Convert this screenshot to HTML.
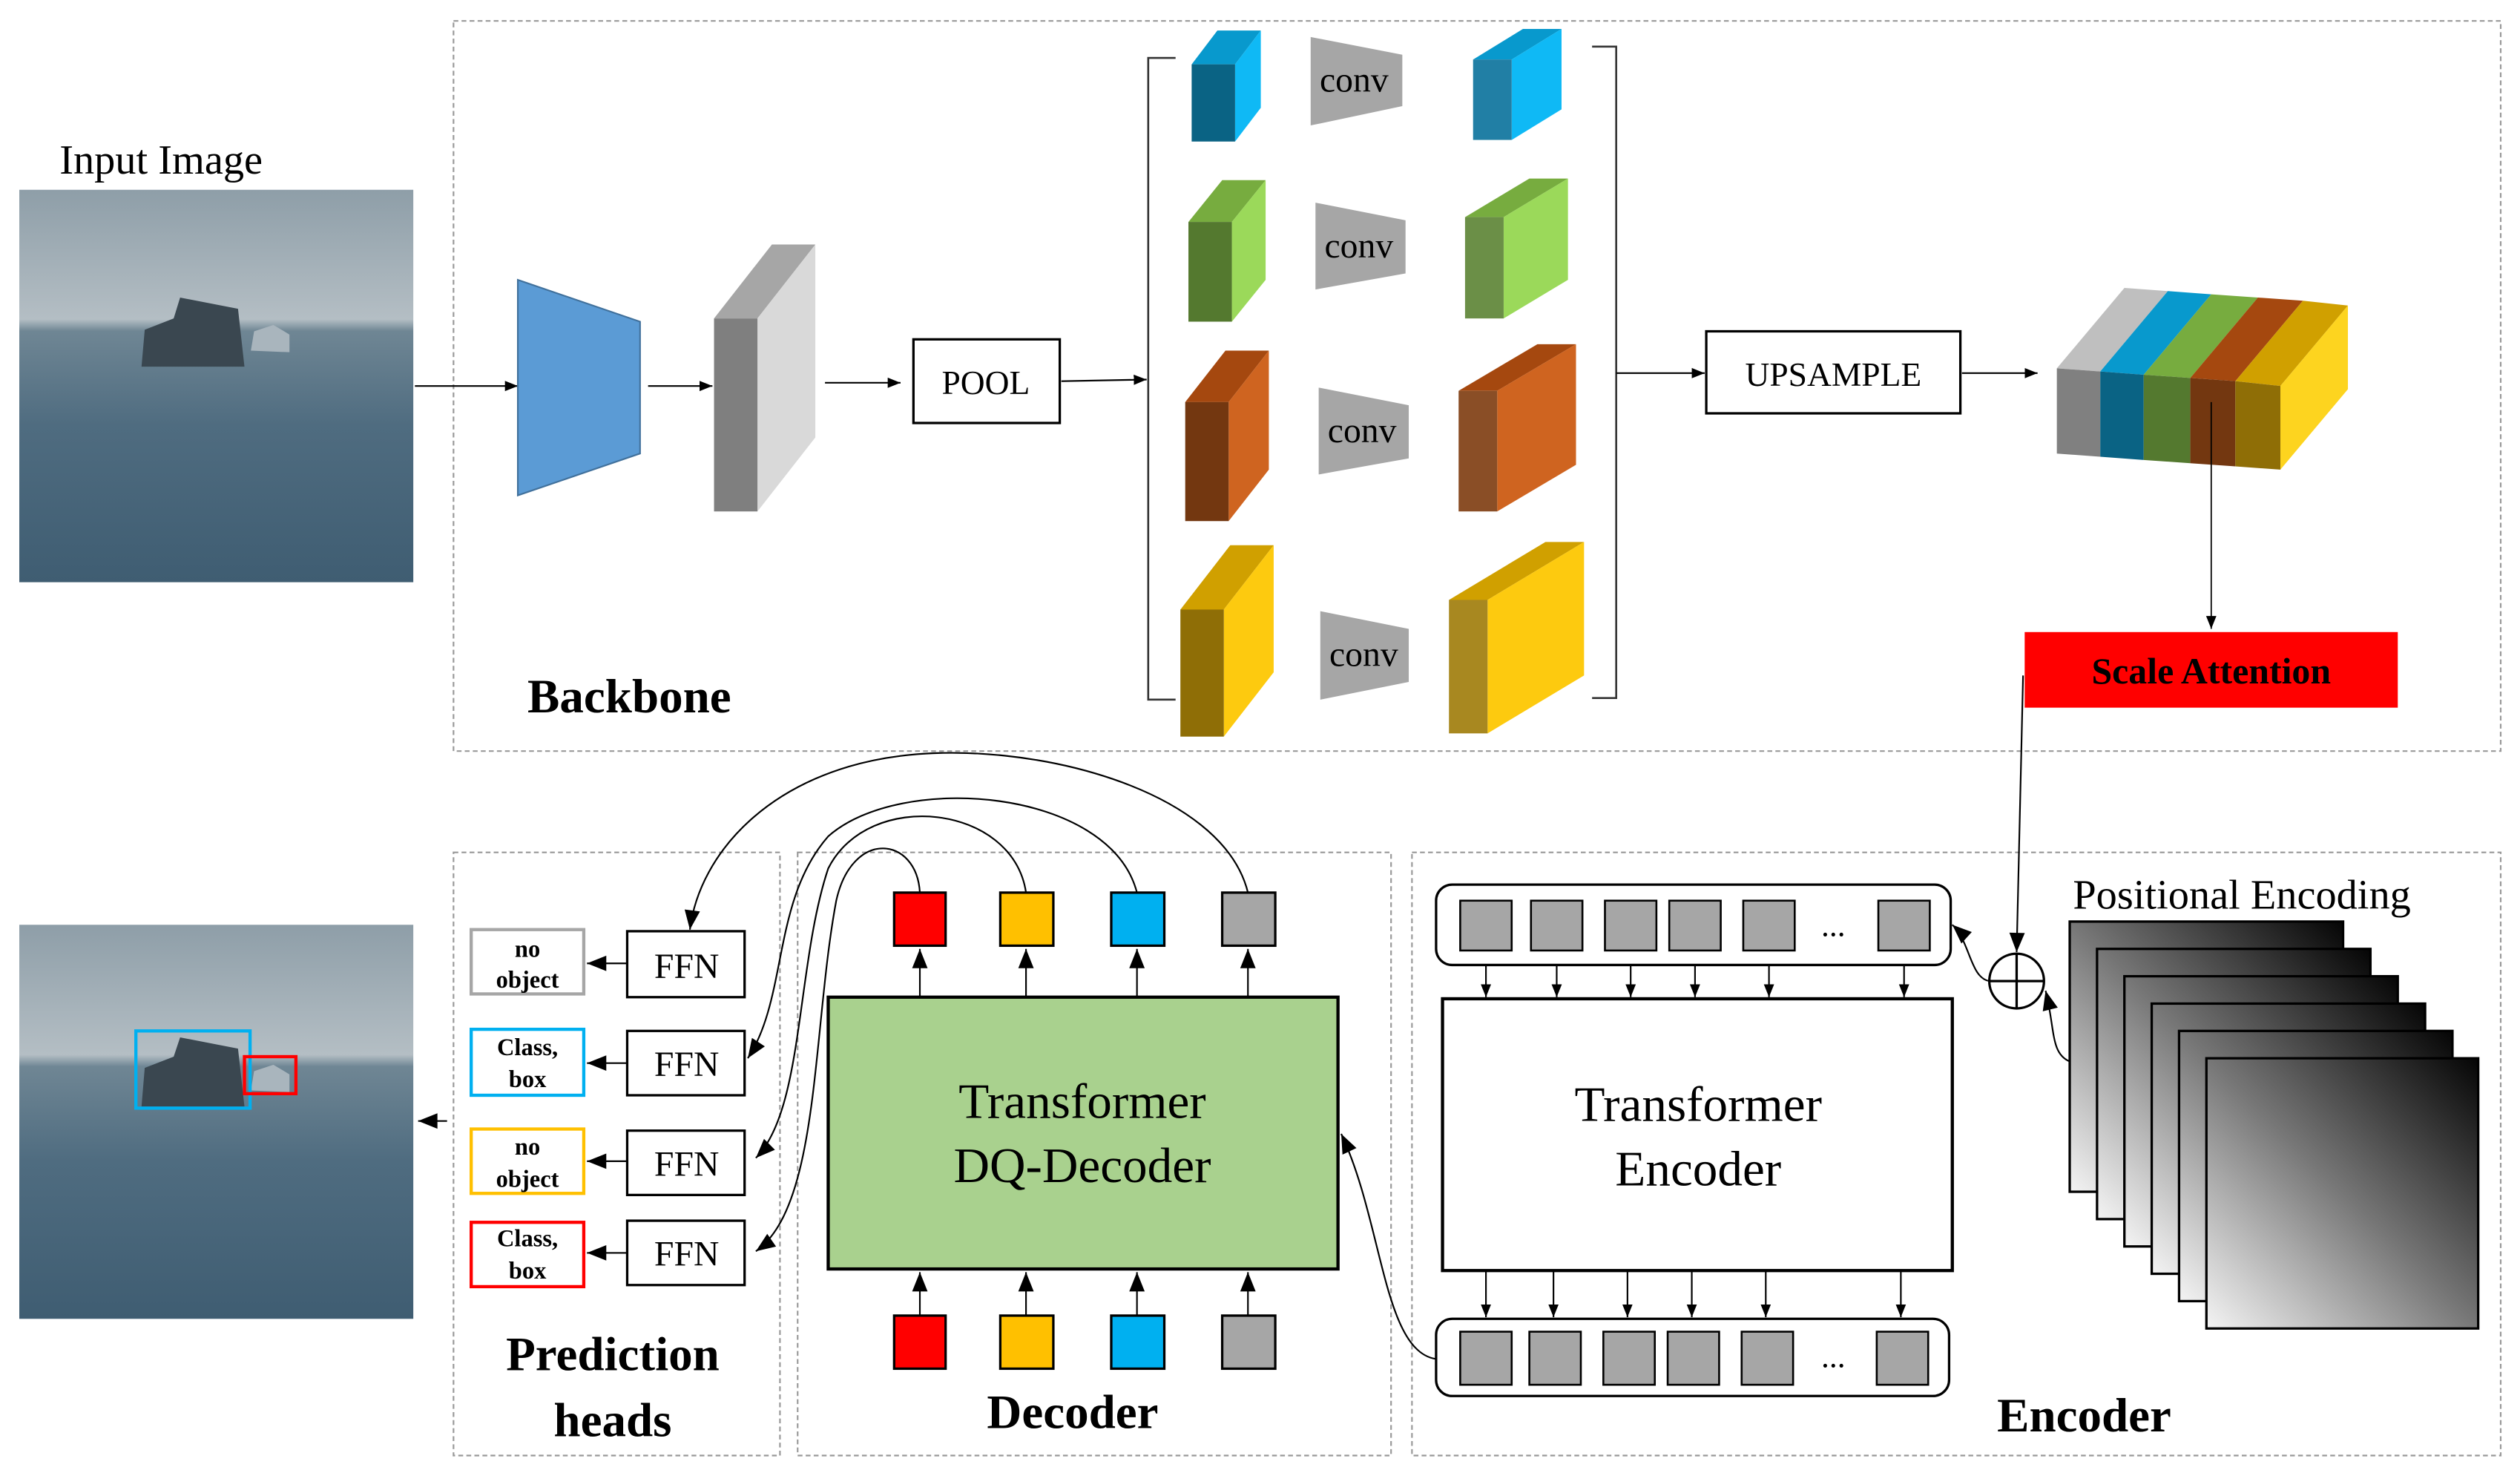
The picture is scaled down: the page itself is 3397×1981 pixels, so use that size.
<!DOCTYPE html>
<html><head><meta charset="utf-8"><style>html,body{margin:0;padding:0;background:#fff;overflow:hidden}svg{display:block}</style></head>
<body>
<svg width="3397" height="1981" viewBox="0 0 1567 914" preserveAspectRatio="none" xmlns="http://www.w3.org/2000/svg" font-family="Liberation Serif, serif">
<defs>
<marker id="a" viewBox="0 0 10 10" refX="10" refY="5" markerWidth="8" markerHeight="8" markerUnits="userSpaceOnUse" orient="auto"><path d="M0,1 L10,5 L0,9 z" fill="#000"/></marker>
<marker id="b" viewBox="0 0 10 10" refX="10" refY="5" markerWidth="14" markerHeight="12" markerUnits="userSpaceOnUse" orient="auto"><path d="M0,1 L10,5 L0,9 z" fill="#000"/></marker>
<linearGradient id="sky" x1="0" y1="0" x2="0" y2="1">
<stop offset="0" stop-color="#8e9ea8"/><stop offset="0.33" stop-color="#b4bec4"/><stop offset="0.36" stop-color="#6f8694"/><stop offset="0.6" stop-color="#4f6c80"/><stop offset="1" stop-color="#3f5d72"/></linearGradient>
<linearGradient id="pe" x1="0" y1="1" x2="1" y2="0">
<stop offset="0" stop-color="#f4f4f4"/><stop offset="0.5" stop-color="#777"/><stop offset="1" stop-color="#050505"/></linearGradient>
</defs>

<!-- dashed containers -->
<g fill="none" stroke="#999" stroke-width="1" stroke-dasharray="3,2">
<rect x="282" y="13" width="1273" height="454"/>
<rect x="282" y="530" width="203" height="375"/>
<rect x="496" y="530" width="369" height="375"/>
<rect x="878" y="530" width="677" height="375"/>
</g>

<!-- input image -->
<text x="37" y="108" font-size="26">Input Image</text>
<rect x="12" y="118" width="245" height="244" fill="url(#sky)"/>
<path d="M88,228 L90,205 L108,198 L112,185 L148,192 L152,228 Z" fill="#3a4750"/>
<path d="M156,218 L158,206 L170,202 L180,208 L180,219 Z" fill="#a9b5bd"/>

<!-- backbone -->
<line x1="258" y1="240" x2="322" y2="240" stroke="#000" marker-end="url(#a)"/>
<polygon points="322,174 398,200 398,282 322,308" fill="#5b9bd5" stroke="#41719c"/>
<line x1="403" y1="240" x2="443" y2="240" stroke="#000" marker-end="url(#a)"/>
<polygon points="444,198 480,152 507,152 471,198" fill="#a6a6a6"/>
<polygon points="471,198 507,152 507,272 471,318" fill="#d9d9d9"/>
<rect x="444" y="198" width="27" height="120" fill="#7f7f7f"/>
<line x1="513" y1="238" x2="560" y2="238" stroke="#000" marker-end="url(#a)"/>
<rect x="568" y="211" width="91" height="52" fill="#fff" stroke="#000" stroke-width="1.5"/>
<text x="613" y="245" font-size="21" text-anchor="middle">POOL</text>
<line x1="660" y1="237" x2="713" y2="236" stroke="#000" marker-end="url(#a)"/>

<!-- brackets -->
<path d="M731,36 L714,36 L714,435 L731,435" fill="none" stroke="#333" stroke-width="1.2"/>
<path d="M990,29 L1005,29 L1005,434 L990,434" fill="none" stroke="#333" stroke-width="1.2"/>

<!-- cubes: left -->
<g>
<polygon points="741,40 757,19 784,19 768,40" fill="#0899cd"/><polygon points="768,40 784,19 784,67 768,88" fill="#0fb9f5"/><rect x="741" y="40" width="27" height="48" fill="#0a6384"/>
<polygon points="739,138 760,112 787,112 766,138" fill="#77ac3f"/><polygon points="766,138 787,112 787,174 766,200" fill="#9bd95a"/><rect x="739" y="138" width="27" height="62" fill="#54792f"/>
<polygon points="737,250 762,218 789,218 764,250" fill="#a5480f"/><polygon points="764,250 789,218 789,292 764,324" fill="#cf6420"/><rect x="737" y="250" width="27" height="74" fill="#733710"/>
<polygon points="734,379 765,339 792,339 761,379" fill="#d0a000"/><polygon points="761,379 792,339 792,418 761,458" fill="#fdca0f"/><rect x="734" y="379" width="27" height="79" fill="#8f6e06"/>
</g>
<!-- cubes: right -->
<g>
<polygon points="916,37 947,18 971,18 940,37" fill="#0899cd"/><polygon points="940,37 971,18 971,68 940,87" fill="#0fb9f5"/><rect x="916" y="37" width="24" height="50" fill="#217fa5"/>
<polygon points="911,135 951,111 975,111 935,135" fill="#77ac3f"/><polygon points="935,135 975,111 975,174 935,198" fill="#9bd95a"/><rect x="911" y="135" width="24" height="63" fill="#6b8f47"/>
<polygon points="907,243 956,214 980,214 931,243" fill="#a5480f"/><polygon points="931,243 980,214 980,289 931,318" fill="#cf6420"/><rect x="907" y="243" width="24" height="75" fill="#8a4e26"/>
<polygon points="901,373 961,337 985,337 925,373" fill="#d0a000"/><polygon points="925,373 985,337 985,420 925,456" fill="#fdca0f"/><rect x="901" y="373" width="24" height="83" fill="#a88820"/>
</g>
<!-- conv trapezoids -->
<g fill="#a6a6a6">
<polygon points="815,23 872,34 872,66 815,78"/>
<polygon points="818,126 874,137 874,170 818,180"/>
<polygon points="820,241 876,252 876,285 820,295"/>
<polygon points="821,380 876,391 876,424 821,435"/>
</g>
<g font-size="22" text-anchor="middle">
<text x="842" y="57">conv</text><text x="845" y="160">conv</text><text x="847" y="275">conv</text><text x="848" y="414">conv</text>
</g>

<line x1="1005" y1="232" x2="1060" y2="232" stroke="#000" marker-end="url(#a)"/>
<rect x="1061" y="206" width="158" height="51" fill="#fff" stroke="#000" stroke-width="1.5"/>
<text x="1140" y="240" font-size="21" text-anchor="middle">UPSAMPLE</text>
<line x1="1220" y1="232" x2="1267" y2="232" stroke="#000" marker-end="url(#a)"/>

<!-- striped feature -->
<g>
<polygon points="1279,229 1321,179 1348,181 1306,231" fill="#bfbfbf"/>
<polygon points="1306,231 1348,181 1375,183 1333,233" fill="#0899cd"/>
<polygon points="1333,233 1375,183 1404,185 1362,235" fill="#77ac3f"/>
<polygon points="1362,235 1404,185 1432,187 1390,237" fill="#a5480f"/>
<polygon points="1390,237 1432,187 1460,190 1418,240" fill="#d0a000"/>
<polygon points="1418,240 1460,190 1460,242 1418,292" fill="#fdd41f"/>
<polygon points="1279,229 1306,231 1306,284 1279,282" fill="#808080"/>
<polygon points="1306,231 1333,233 1333,286 1306,284" fill="#0a6384"/>
<polygon points="1333,233 1362,235 1362,288 1333,286" fill="#54792f"/>
<polygon points="1362,235 1390,237 1390,290 1362,288" fill="#733710"/>
<polygon points="1390,237 1418,240 1418,292 1390,290" fill="#8f6e06"/>
</g>
<line x1="1375" y1="250" x2="1375" y2="391" stroke="#000" stroke-width="0.8" marker-end="url(#a)"/>
<rect x="1259" y="393" width="232" height="47" fill="#ff0000"/>
<text x="1375" y="425" font-size="23" font-weight="bold" text-anchor="middle">Scale Attention</text>
<text x="328" y="443" font-size="30" font-weight="bold">Backbone</text>

<!-- output image -->
<rect x="12" y="575" width="245" height="245" fill="url(#sky)"/>
<path d="M88,688 L90,664 L108,657 L112,645 L148,652 L152,688 Z" fill="#3a4750"/>
<path d="M156,678 L158,666 L170,662 L180,668 L180,679 Z" fill="#a9b5bd"/>
<rect x="84.5" y="641" width="71" height="48" fill="none" stroke="#00b0f0" stroke-width="2"/>
<rect x="152" y="657" width="32" height="23" fill="none" stroke="#ff0000" stroke-width="2"/>
<line x1="278" y1="697" x2="260" y2="697" stroke="#000" marker-end="url(#b)"/>

<!-- prediction heads -->
<g stroke-width="2" fill="#fff">
<rect x="293" y="578" width="70" height="40" stroke="#a6a6a6"/>
<rect x="293" y="640" width="70" height="41" stroke="#00b0f0"/>
<rect x="293" y="702" width="70" height="40" stroke="#ffc000"/>
<rect x="293" y="760" width="70" height="40" stroke="#ff0000"/>
</g>
<g font-size="15" font-weight="bold" text-anchor="middle">
<text x="328" y="595">no</text><text x="328" y="614">object</text>
<text x="328" y="656">Class,</text><text x="328" y="676">box</text>
<text x="328" y="718">no</text><text x="328" y="738">object</text>
<text x="328" y="775">Class,</text><text x="328" y="795">box</text>
</g>
<g fill="#fff" stroke="#000" stroke-width="1.5">
<rect x="390" y="579" width="73" height="41"/><rect x="390" y="641" width="73" height="40"/>
<rect x="390" y="703" width="73" height="40"/><rect x="390" y="759" width="73" height="40"/>
</g>
<g font-size="22" text-anchor="middle">
<text x="427" y="608">FFN</text><text x="427" y="669">FFN</text><text x="427" y="731">FFN</text><text x="427" y="787">FFN</text>
</g>
<g stroke="#000" marker-end="url(#b)">
<line x1="390" y1="599" x2="365" y2="599"/><line x1="390" y1="661" x2="365" y2="661"/>
<line x1="390" y1="722" x2="365" y2="722"/><line x1="390" y1="779" x2="365" y2="779"/>
</g>
<text x="381" y="852" font-size="30" font-weight="bold" text-anchor="middle">Prediction</text>
<text x="381" y="893" font-size="30" font-weight="bold" text-anchor="middle">heads</text>

<!-- decoder -->
<rect x="515" y="620" width="317" height="169" fill="#a9d18e" stroke="#000" stroke-width="2"/>
<text x="673" y="695" font-size="31" text-anchor="middle">Transformer</text>
<text x="673" y="735" font-size="31" text-anchor="middle">DQ-Decoder</text>
<g stroke="#000" stroke-width="1.5">
<rect x="556" y="555" width="32" height="33" fill="#ff0000"/><rect x="622" y="555" width="33" height="33" fill="#ffc000"/>
<rect x="691" y="555" width="33" height="33" fill="#00b0f0"/><rect x="760" y="555" width="33" height="33" fill="#a6a6a6"/>
<rect x="556" y="818" width="32" height="33" fill="#ff0000"/><rect x="622" y="818" width="33" height="33" fill="#ffc000"/>
<rect x="691" y="818" width="33" height="33" fill="#00b0f0"/><rect x="760" y="818" width="33" height="33" fill="#a6a6a6"/>
</g>
<g stroke="#000" stroke-width="1" marker-end="url(#b)">
<line x1="572" y1="620" x2="572" y2="590"/><line x1="638" y1="620" x2="638" y2="590"/>
<line x1="707" y1="620" x2="707" y2="590"/><line x1="776" y1="620" x2="776" y2="590"/>
<line x1="572" y1="818" x2="572" y2="791"/><line x1="638" y1="818" x2="638" y2="791"/>
<line x1="707" y1="818" x2="707" y2="791"/><line x1="776" y1="818" x2="776" y2="791"/>
</g>
<g fill="none" stroke="#000" stroke-width="1" marker-end="url(#b)">
<path d="M776,555 C760,490 640,460 560,470 C480,480 435,530 429,578"/>
<path d="M707,555 C690,490 560,480 515,520 C480,560 490,620 465,658"/>
<path d="M638,555 C630,500 540,490 515,540 C495,600 500,690 470,720"/>
<path d="M572,555 C570,520 530,515 520,560 C505,640 510,750 470,778"/>
</g>
<text x="667" y="888" font-size="30" font-weight="bold" text-anchor="middle">Decoder</text>

<!-- encoder -->
<rect x="893" y="550" width="320" height="50" rx="10" fill="#fff" stroke="#000" stroke-width="1.5"/>
<rect x="893" y="820" width="319" height="48" rx="10" fill="#fff" stroke="#000" stroke-width="1.5"/>
<g fill="#a6a6a6" stroke="#000" stroke-width="1.2">
<rect x="908" y="560" width="32" height="31"/><rect x="952" y="560" width="32" height="31"/><rect x="998" y="560" width="32" height="31"/><rect x="1038" y="560" width="32" height="31"/><rect x="1084" y="560" width="32" height="31"/><rect x="1168" y="560" width="32" height="31"/>
<rect x="908" y="828" width="32" height="33"/><rect x="951" y="828" width="32" height="33"/><rect x="997" y="828" width="32" height="33"/><rect x="1037" y="828" width="32" height="33"/><rect x="1083" y="828" width="32" height="33"/><rect x="1167" y="828" width="32" height="33"/>
</g>
<text x="1140" y="582" font-size="20" text-anchor="middle">...</text>
<text x="1140" y="850" font-size="20" text-anchor="middle">...</text>
<rect x="897" y="621" width="317" height="169" fill="#fff" stroke="#000" stroke-width="2"/>
<text x="1056" y="697" font-size="31" text-anchor="middle">Transformer</text>
<text x="1056" y="737" font-size="31" text-anchor="middle">Encoder</text>
<g stroke="#000" stroke-width="1" marker-end="url(#a)">
<line x1="924" y1="600" x2="924" y2="620"/><line x1="968" y1="600" x2="968" y2="620"/><line x1="1014" y1="600" x2="1014" y2="620"/><line x1="1054" y1="600" x2="1054" y2="620"/><line x1="1100" y1="600" x2="1100" y2="620"/><line x1="1184" y1="600" x2="1184" y2="620"/>
<line x1="924" y1="790" x2="924" y2="819"/><line x1="966" y1="790" x2="966" y2="819"/><line x1="1012" y1="790" x2="1012" y2="819"/><line x1="1052" y1="790" x2="1052" y2="819"/><line x1="1098" y1="790" x2="1098" y2="819"/><line x1="1182" y1="790" x2="1182" y2="819"/>
</g>
<path d="M893,845 C860,840 860,760 834,705" fill="none" stroke="#000" stroke-width="1" marker-end="url(#b)"/>
<!-- scale attention to oplus -->
<path d="M1258,420 L1254,592" fill="none" stroke="#000" stroke-width="1" marker-end="url(#b)"/>
<circle cx="1254" cy="610" r="17" fill="#fff" stroke="#000" stroke-width="1.5"/>
<line x1="1237" y1="610" x2="1271" y2="610" stroke="#000" stroke-width="1.5"/>
<line x1="1254" y1="593" x2="1254" y2="627" stroke="#000" stroke-width="1.5"/>
<path d="M1237,610 C1225,608 1225,585 1214,575" fill="none" stroke="#000" stroke-width="1" marker-end="url(#b)"/>
<path d="M1287,660 C1275,655 1278,640 1272,616" fill="none" stroke="#000" stroke-width="1" marker-end="url(#b)"/>

<!-- positional encoding -->
<text x="1289" y="565" font-size="26">Positional Encoding</text>
<g stroke="#000" stroke-width="1.5" fill="url(#pe)">
<rect x="1287" y="573" width="170" height="168"/>
<rect x="1304" y="590" width="170" height="168"/>
<rect x="1321" y="607" width="170" height="168"/>
<rect x="1338" y="624" width="170" height="168"/>
<rect x="1355" y="641" width="170" height="168"/>
<rect x="1372" y="658" width="169" height="168"/>
</g>
<text x="1296" y="890" font-size="30" font-weight="bold" text-anchor="middle">Encoder</text>
</svg>
</body></html>
